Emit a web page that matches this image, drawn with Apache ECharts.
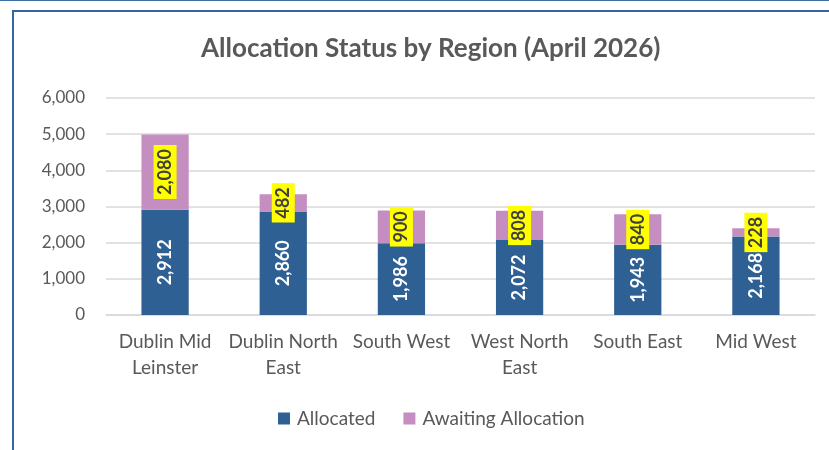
<!DOCTYPE html>
<html>
<head>
<meta charset="utf-8">
<script src="https://cdn.jsdelivr.net/npm/echarts@6/dist/echarts.min.js"></script>
<style>
  body { margin: 0; background: #fff; }
  #wrap { position: relative; width: 829px; height: 450px; overflow: hidden; }
  #main { position: absolute; left: 0; top: 0; width: 829px; height: 450px; }
  #topline { position: absolute; left: 0; top: 0; width: 829px; height: 1px; background: #3b6f9e; }
  #frame { position: absolute; left: 12px; top: 10px; width: 900px; height: 500px;
           border-left: 2px solid #3565a0; border-top: 2px solid #3565a0; pointer-events: none; }
</style>
</head>
<body>
<div id="wrap">
  <div id="main"></div>
  <div id="topline"></div>
  <div id="frame"></div>
</div>
<script>
// regions, two stacked series
const regions = ['Dublin Mid\nLeinster', 'Dublin North\nEast', 'South West', 'West North\nEast', 'South East', 'Mid West']
const allocated = [2912, 2860, 1986, 2072, 1943, 2168]
const awaiting = [2080, 482, 900, 808, 840, 228]
const yTicks = [0, 1000, 2000, 3000, 4000, 5000, 6000]

const fmt = v => v.toLocaleString('en-US')
const font = 'Lato, "Open Sans", sans-serif'

const chart = echarts.init(document.getElementById('main'))
chart.setOption({
    animation: false,
    textStyle: { fontFamily: font },
    title: {
        text: 'Allocation Status by Region (April 2026)',
        left: 196,
        top: 31,
        textStyle: { fontSize: 26, fontWeight: 'bold', color: '#595959', fontFamily: font }
    },
    legend: {
        bottom: 17,
        left: 273,
        itemWidth: 12,
        itemHeight: 12,
        itemGap: 28,
        icon: 'rect',
        textStyle: { fontSize: 19, color: '#595959', fontFamily: font, padding: [0, 0, 0, 2] },
        data: ['Allocated', 'Awaiting Allocation']
    },
    grid: { left: 106, right: 14, top: 98, bottom: 135 },
    xAxis: {
        type: 'category',
        data: regions,
        axisLine: { lineStyle: { color: '#d9d9d9', width: 1.5 } },
        axisTick: { show: false },
        axisLabel: { fontSize: 19, color: '#595959', margin: 14, lineHeight: 26, interval: 0, fontFamily: font }
    },
    yAxis: {
        type: 'value',
        min: yTicks[0],
        max: yTicks[yTicks.length - 1],
        interval: 1000,
        axisLine: { show: false },
        axisTick: { show: false },
        splitLine: { lineStyle: { color: '#d9d9d9', width: 1.5 } },
        axisLabel: { fontSize: 17, color: '#595959', margin: 21, formatter: v => fmt(v), fontFamily: font }
    },
    series: [
        {
            name: 'Allocated',
            type: 'bar',
            stack: 'total',
            barWidth: '40%',
            data: allocated,
            itemStyle: { color: '#2f6094' },
            label: {
                show: true,
                position: 'inside',
                rotate: 90,
                color: '#fff',
                fontSize: 18,
                fontWeight: 'bold',
                fontFamily: font,
                formatter: p => fmt(p.value)
            }
        },
        {
            name: 'Awaiting Allocation',
            type: 'bar',
            stack: 'total',
            data: awaiting,
            itemStyle: { color: '#c48fc0' },
            label: {
                show: true,
                position: 'inside',
                rotate: 90,
                color: '#404040',
                fontSize: 18,
                fontWeight: 'bold',
                fontFamily: font,
                backgroundColor: '#ffff00',
                padding: [3, 4, 2, 4],
                formatter: p => fmt(p.value)
            }
        }
    ]
})
</script>
</body>
</html>
